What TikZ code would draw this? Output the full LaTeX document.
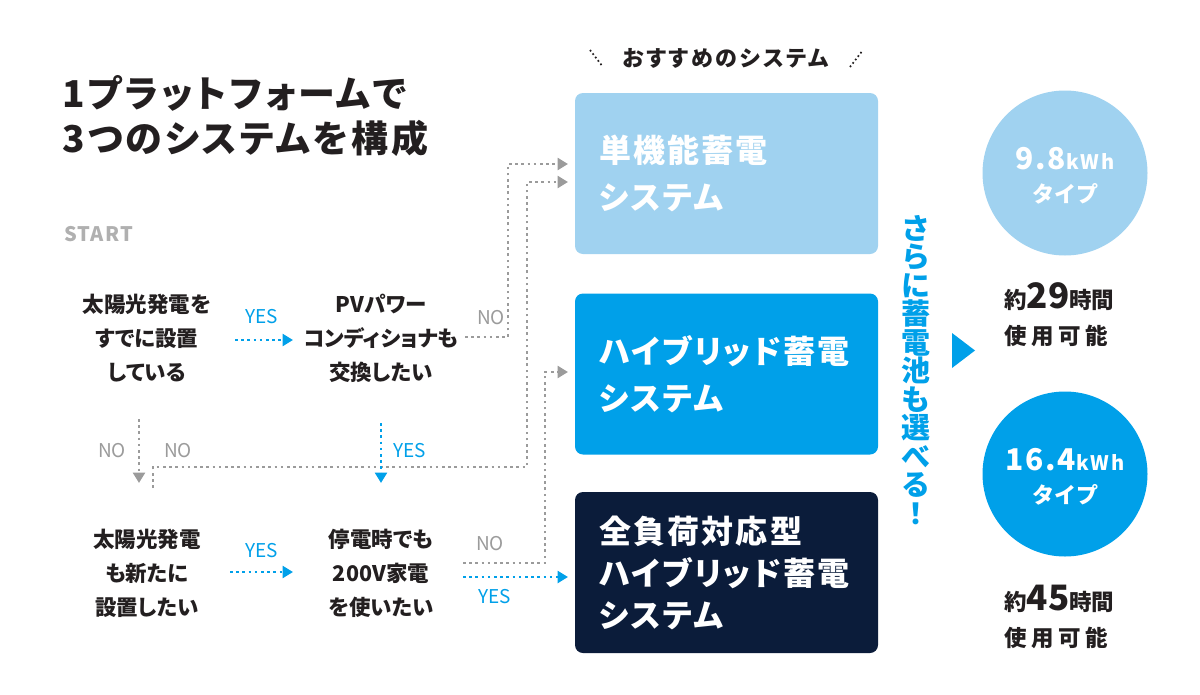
\documentclass[tikz,border=0pt]{standalone}
\usepackage{fontspec}
\setmainfont{Noto Sans CJK JP}[RawFeature=+palt]
\usetikzlibrary{arrows.meta}
\definecolor{ink}{HTML}{231F20}
\definecolor{lblue}{HTML}{A0D2F0}
\definecolor{mblue}{HTML}{00A0E9}
\definecolor{navy}{HTML}{0B1C3A}
\definecolor{lgray}{HTML}{9B9B9B}
\definecolor{sgray}{HTML}{B0B0B0}
\begin{document}
\begin{tikzpicture}[x=1pt,y=-1pt,
  every node/.style={inner sep=0pt, text=ink},
  title/.style={font={\fontsize{37}{45}\selectfont\bfseries\addfontfeature{LetterSpace=8}}, align=left, anchor=west},
  q/.style={font={\fontsize{21.5}{34}\selectfont\bfseries}, align=center},
  lab/.style={font={\fontsize{19}{19}\selectfont}},
  yes/.style={lab, text=mblue},
  no/.style={lab, text=lgray},
  tip/.style={-{Triangle[length=10.5pt,width=12pt]}},
  gdot/.style={draw=lgray, line width=2.6pt, dash pattern=on 2.6pt off 3.6pt, tip},
  bdot/.style={draw=mblue, line width=2.6pt, dash pattern=on 2.6pt off 3.6pt, tip},
  sysbox/.style={rounded corners=8pt, minimum width=303pt, minimum height=161pt, text width=255pt, align=left, inner xsep=24pt, text=white},
  capc/.style={circle, minimum size=165pt, text=white, align=center},
]
\useasboundingbox (0,0) rectangle (1200,694);
\fill[white] (0,0) rectangle (1200,694);

% title
\node[title] (ttl) at (62,116) {1プラットフォームで\\3つのシステムを構成};
\node[anchor=west, font={\fontsize{20}{20}\selectfont\bfseries\addfontfeature{LetterSpace=6}}, text=sgray] (start) at (64,234) {START};

% questions
\node[q] (q1) at (147,338) {太陽光発電を\\すでに設置\\している};
\node[q] (q2) at (381,338) {PVパワー\\コンディショナも\\交換したい};
\node[q] (q3) at (147,573) {太陽光発電\\も新たに\\設置したい};
\node[q] (q4) at (381,573) {停電時でも\\200V家電\\を使いたい};

% header
\node[font={\fontsize{22}{22}\selectfont\bfseries\addfontfeature{LetterSpace=12}}] (hdr) at (726,58) {おすすめのシステム};
\draw[ink, line width=1.7pt, dash pattern=on 1.7pt off 2.6pt] (590,50) -- (603,67);
\draw[ink, line width=1.7pt, dash pattern=on 1.7pt off 2.6pt] (850,67) -- (863,50);

% system boxes
\node[sysbox, fill=lblue, font={\fontsize{32}{47}\selectfont\bfseries\addfontfeature{LetterSpace=7}}] (b1) at (726.5,173.5) {単機能蓄電\\システム};
\node[sysbox, fill=mblue, font={\fontsize{32}{47}\selectfont\bfseries\addfontfeature{LetterSpace=7}}] (b2) at (726.5,374) {ハイブリッド蓄電\\システム};
\node[sysbox, fill=navy, font={\fontsize{32}{42}\selectfont\bfseries\addfontfeature{LetterSpace=7}}] (b3) at (726.5,572.5) {全負荷対応型\\ハイブリッド蓄電\\システム};

% gray connectors
\draw[gdot] (q2) ++(84,-1) -| (508,164) -- ++(60,0);
\draw[gdot] (q1) ++(-8,81) -- ++(0,64);
\draw[gdot] (q3) ++(6,-85) |- (527,467) |- (568,182);
\draw[gdot] (q4) ++(82,-10) -| (545,372) -- ++(23,0);
% blue connectors
\draw[bdot] (q1) ++(88,2) -- ++(58,0);
\draw[bdot] (q2) ++(0,85) -- ++(0,60);
\draw[bdot] (q3) ++(83,-1) -- ++(63,0);
\draw[bdot] (q4) ++(82,4) -- ++(105,0);

% labels
\node[yes] (y1) at (262,317) {YES};
\node[no] (n1) at (491,318) {NO};
\node[no] (n2) at (112,451) {NO};
\node[no] (n3) at (178,451) {NO};
\node[yes] (y2) at (410,451) {YES};
\node[yes] (y3) at (262,551) {YES};
\node[no] (n4) at (490,544) {NO};
\node[yes] (y4) at (495,597) {YES};

% vertical text and triangle
\node[font={\fontsize{29}{28.5}\selectfont\bfseries}, text=mblue, align=center] (vt) at (916,370) {さ\\ら\\に\\蓄\\電\\池\\も\\選\\べ\\る\\！};
\fill[mblue] (952,333) -- (975,350.5) -- (952,368) -- cycle;

% capacity circles
\node[capc, fill=lblue] (c1) at (1065,173) {};
\node[capc, fill=mblue] (c2) at (1065,474) {};
\node[text=white, align=center, font={\fontsize{22}{33}\selectfont\bfseries}] (c1t) at (1065,176) {{\fontsize{30}{30}\selectfont\addfontfeature{LetterSpace=6}9.8}{\fontsize{20}{20}\selectfont\addfontfeature{LetterSpace=10}kWh}\\{\addfontfeature{LetterSpace=10}タイプ}};
\node[text=white, align=center, font={\fontsize{22}{33}\selectfont\bfseries}] (c2t) at (1065,477) {{\fontsize{30}{30}\selectfont\addfontfeature{LetterSpace=6}16.4}{\fontsize{20}{20}\selectfont\addfontfeature{LetterSpace=10}kWh}\\{\addfontfeature{LetterSpace=10}タイプ}};

\node[anchor=west, align=left, font={\fontsize{22.5}{36}\selectfont\bfseries}] (h1) at (1004,315) {約{\fontsize{35}{36}\selectfont 29}時間\\{\addfontfeature{LetterSpace=20}使用可能}};
\node[anchor=west, align=left, font={\fontsize{22.5}{36}\selectfont\bfseries}] (h2) at (1004,617) {約{\fontsize{35}{36}\selectfont 45}時間\\{\addfontfeature{LetterSpace=20}使用可能}};
\end{tikzpicture}
\end{document}
